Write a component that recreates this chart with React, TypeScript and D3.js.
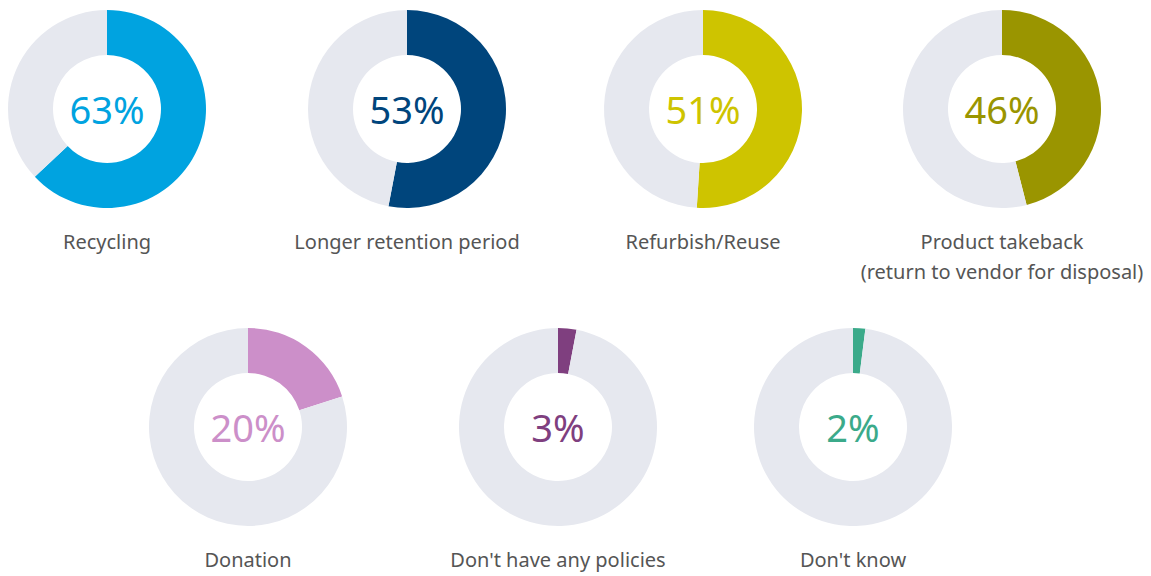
import React, { useEffect, useRef } from "react";
import * as d3 from "d3";

const labels = [
  ["Recycling"],
  ["Longer retention period"],
  ["Refurbish/Reuse"],
  ["Product takeback", "(return to vendor for disposal)"],
  ["Donation"],
  ["Don't have any policies"],
  ["Don't know"],
];
const values = [63, 53, 51, 46, 20, 3, 2];
const colors = ["#00a3e0", "#00457c", "#cec400", "#9a9500", "#cc8fc9", "#7f3f7f", "#3baa8a"];

const width = 1151;
const height = 576;

const App = () => {
  const svgRef = useRef<SVGSVGElement>(null);

  useEffect(() => {
    const svg = d3.select(svgRef.current);
    svg.selectAll("*").remove();

    // layout of the donuts: 4 on top, 3 below
    const centers = [
      [107, 109],
      [407, 109],
      [703, 109],
      [1002, 109],
      [248, 427],
      [558, 427],
      [853, 427],
    ];
    const outer = 99;
    const inner = 54;

    const pie = d3
      .pie<number>()
      .sort(null)
      .value((d) => d);
    const arc = d3.arc<d3.PieArcDatum<number>>().innerRadius(inner).outerRadius(outer);

    const font = "'Source Sans Pro', 'Noto Sans', sans-serif";

    values.forEach((v, i) => {
      const [cx, cy] = centers[i];
      const g = svg.append("g").attr("transform", `translate(${cx},${cy})`);

      g.selectAll("path")
        .data(pie([v, 100 - v]))
        .enter()
        .append("path")
        .attr("d", arc)
        .attr("fill", (d, j) => (j === 0 ? colors[i] : "#e6e8ef"));

      g.append("text")
        .attr("text-anchor", "middle")
        .attr("y", 2)
        .attr("dy", "0.35em")
        .attr("font-family", font)
        .attr("font-size", 38)
        .attr("fill", colors[i])
        .text(`${v}%`);

      labels[i].forEach((line, k) => {
        g.append("text")
          .attr("text-anchor", "middle")
          .attr("y", outer + 41 + k * 30)
          .attr("font-family", font)
          .attr("font-size", 20)
          .attr("fill", "#555555")
          .text(line);
      });
    });
  }, []);

  return (
    <svg
      ref={svgRef}
      width={width}
      height={height}
      style={{ position: "absolute", left: 0, top: 0, background: "#ffffff" }}
    ></svg>
  );
};

export default App;
